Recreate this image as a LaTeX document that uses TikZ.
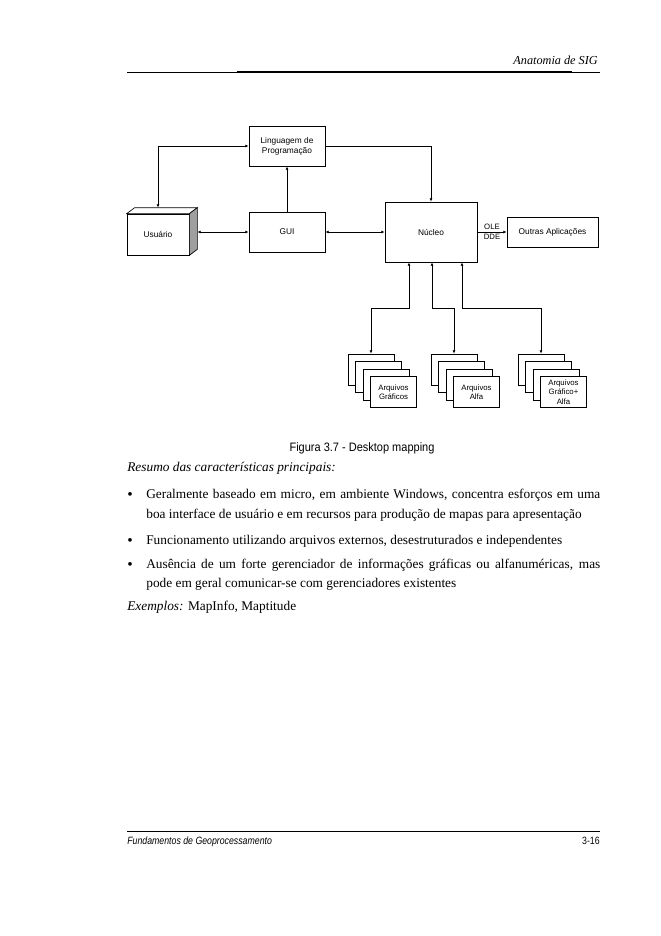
\documentclass[tikz,border=0pt]{standalone}
\usepackage{fontspec}
\setmainfont{Liberation Serif}
\setsansfont{Liberation Sans}
\newfontfamily\estreita[FakeStretch=0.9]{Liberation Sans}
\newfontfamily\rodape[FakeStretch=0.83]{Liberation Sans}
\usetikzlibrary{arrows.meta}
\usetikzlibrary{calc}
\usetikzlibrary{positioning}

\tikzset{
  caixa/.style={draw, fill=white, inner sep=1pt, align=center,
    font=\fontsize{7.5}{9}\sffamily},
  folha/.style={draw, fill=white, inner sep=0pt, align=center,
    minimum width=41.4pt, minimum height=27.9pt,
    font=\fontsize{7}{8.5}\sffamily},
  seta/.style={-{Latex[length=3pt,width=2.6pt]}},
  dupla/.style={{Latex[length=3pt,width=2.6pt]}-{Latex[length=3pt,width=2.6pt]}},
  texto/.style={anchor=base west, inner sep=0pt, font=\fontsize{12}{14}\selectfont},
  marcador/.style={anchor=base west, inner sep=0pt, font=\fontsize{14}{14}\selectfont}
}

\begin{document}
\begin{tikzpicture}[x=0.9pt, y=-0.9pt, line width=0.6pt]
  \useasboundingbox (0,0) rectangle (661,936);

  %% page header
  \node[anchor=base east, inner sep=0pt, font=\itshape\fontsize{11}{13}\selectfont]
    (cabecalho) at (598,64) {Anatomia de SIG};
  \draw[line width=0.4pt] (127,72) -- (600,72);
  \draw[line width=1.4pt] (237,72) -- (572,72);

  %% diagram
  % boxes
  \node[caixa, minimum width=68.4pt, minimum height=36pt] (ling) at (287,146)
    {Linguagem de\\Programação};
  \node[caixa, minimum width=68.4pt, minimum height=36pt] (gui) at (287,232) {GUI};
  \node[caixa, minimum width=82.8pt, minimum height=54pt] (nucleo) at (431,232) {Núcleo};
  \node[caixa, minimum width=81.9pt, minimum height=27pt] (outras) at (552.5,232)
    {Outras Aplicações};

  % user box (3d)
  \node[caixa, minimum width=55.8pt, minimum height=36.9pt] (usuario) at (158,234.5) {Usuário};
  \filldraw[fill=white] (usuario.north west) -- ++(8,-6)
    -- ($(usuario.north east)+(8,-6)$) -- (usuario.north east) -- cycle;
  \filldraw[fill=gray!75] (usuario.north east) -- ++(8,-6)
    -- ($(usuario.south east)+(8,-6)$) -- (usuario.south east) -- cycle;
  \coordinate (utopo) at ($(usuario.north)+(0,-6)$);
  \coordinate (ulado) at ($(usuario.east)+(8,0)$);

  % file stacks
  \foreach \nome/\cx in {g/371, a/454, ga/541} {
    \foreach \k in {0,1,2} {
      \node[folha] (\nome\k) at (\cx+7.5*\k, 369.5+7.5*\k) {};
    }
  }
  \node[folha] (arqg) at (393.5,392) {Arquivos\\Gráficos};
  \node[folha] (arqa) at (476.5,392) {Arquivos\\Alfa};
  \node[folha] (arqga) at (563.5,392) {Arquivos\\Gráfico+\\Alfa};

  % connectors
  \draw[dupla] (utopo) |- (ling.west);
  \draw[seta] (gui.north) -- (ling.south);
  \draw[dupla] (gui.west -| ulado) -- (gui.west);
  \draw[dupla] (gui.east) -- (nucleo.west);
  \draw[seta] (ling.east) -| (nucleo.north);
  \draw[seta] (nucleo.east) -- node[above=1pt, inner sep=0.5pt, font=\fontsize{7}{8}\sffamily] {OLE}
    node[below=1pt, inner sep=0.5pt, font=\fontsize{7}{8}\sffamily] {DDE} (outras.west);
  \draw[dupla] ($(nucleo.south)+(-22,0)$) -- ++(0,46) -| (g0.north);
  \draw[dupla] ($(nucleo.south)+(1,0)$) -- ++(0,46) -| (a0.north);
  \draw[dupla] ($(nucleo.south)+(31,0)$) -- ++(0,46) -| (ga0.north);

  %% caption
  \node[anchor=base, inner sep=0pt, font=\estreita\fontsize{11}{13}\selectfont]
    (legenda) at (362,451) {Figura 3.7 - Desktop mapping};

  %% text
  \node[texto] (resumo) at (127,471) {\textit{Resumo das características principais:}};

  \node[marcador] (m1) at (127,499) {\textbullet};
  \node[texto] (l1) at (146,498)
    {\makebox[408.6pt][s]{Geralmente baseado em micro, em ambiente Windows, concentra esforços em uma}};
  \node[texto] (l2) at (146,518)
    {boa interface de usuário e em recursos para produção de mapas para apresentação};

  \node[marcador] (m2) at (127,545) {\textbullet};
  \node[texto] (l3) at (146,544)
    {Funcionamento utilizando arquivos externos, desestruturados e independentes};

  \node[marcador] (m3) at (127,569) {\textbullet};
  \node[texto] (l4) at (146,568)
    {\makebox[408.6pt][s]{Ausência de um forte gerenciador de informações gráficas ou alfanuméricas, mas}};
  \node[texto] (l5) at (146,587)
    {pode em geral comunicar-se com gerenciadores existentes};

  \node[texto] (exemplos) at (127,610) {\textit{Exemplos:} MapInfo, Maptitude};

  %% page footer
  \draw[line width=0.4pt] (127,831) -- (600,831);
  \node[anchor=base west, inner sep=0pt, font=\rodape\itshape\fontsize{9.5}{11}\selectfont]
    (rodape) at (127,844) {Fundamentos de Geoprocessamento};
  \node[anchor=base east, inner sep=0pt, font=\rodape\fontsize{9.5}{11}\selectfont]
    (pagina) at (600,844) {3-16};
\end{tikzpicture}
\end{document}
